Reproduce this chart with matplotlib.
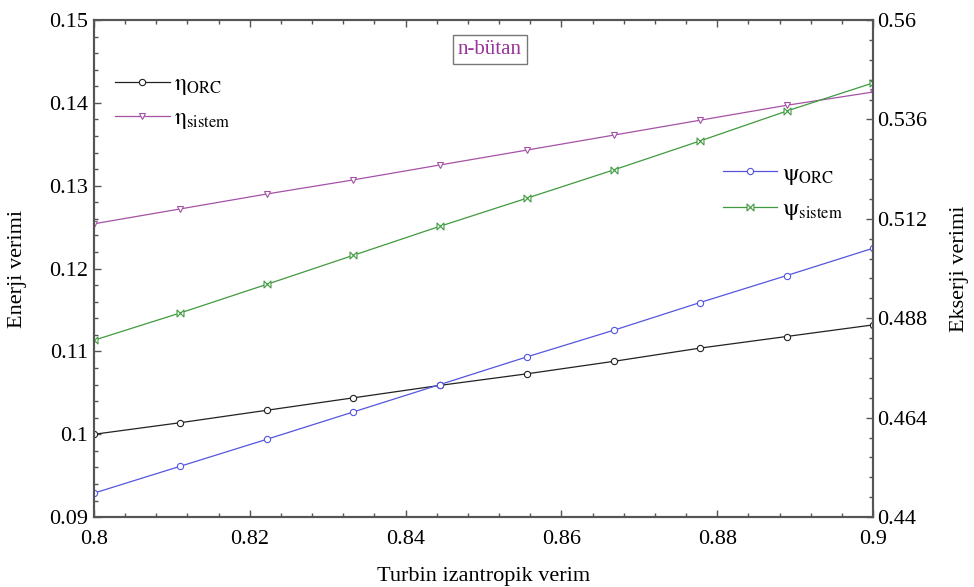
import numpy as np
import matplotlib.pyplot as plt
from matplotlib.path import Path
from matplotlib.ticker import FuncFormatter, MultipleLocator, FixedLocator, AutoMinorLocator

plt.rcParams['font.family'] = ['Liberation Serif', 'DejaVu Serif']
plt.rcParams['mathtext.fontset'] = 'stix'

# verimler (okunan degerler)
turbin_verim = [0.8, 0.8111, 0.8222, 0.8333, 0.8444, 0.8556, 0.8667, 0.8778, 0.8889, 0.9]
eta_orc = [0.1000, 0.1014, 0.1029, 0.1044, 0.1059, 0.1073, 0.1088, 0.1104, 0.1118, 0.1132]
eta_sistem = [0.1254, 0.1272, 0.1290, 0.1307, 0.1325, 0.1343, 0.1361, 0.1379, 0.1397, 0.1413]
psi_orc = [0.4458, 0.4523, 0.4588, 0.4654, 0.4720, 0.4787, 0.4851, 0.4918, 0.4983, 0.5049]
psi_sistem = [0.4827, 0.4893, 0.4962, 0.5032, 0.5102, 0.5170, 0.5238, 0.5308, 0.5380, 0.5448]
ekserji_ticks = [0.44, 0.464, 0.488, 0.512, 0.536, 0.56]

# yatay kum saati isareti
bowtie = Path([(-1, -1), (1, 1), (1, -1), (-1, 1), (-1, -1)],
              [Path.MOVETO, Path.LINETO, Path.LINETO, Path.LINETO, Path.CLOSEPOLY])

fig = plt.figure(figsize=(9.74, 5.87), dpi=100)
ax = fig.add_axes([0.0965, 0.119, 0.7998, 0.847])
ax2 = ax.twinx()

c_eta = '#222222'
c_eta_s = '#a552a5'
c_psi = '#5555e0'
c_psi_s = '#3f9a3f'

l1, = ax.plot(turbin_verim, eta_orc, color=c_eta, lw=0.9, marker='o', ms=4.5,
              mfc='white', mew=0.8, label=r'$\mathrm{η}_{\rm ORC}$')
l2, = ax.plot(turbin_verim, eta_sistem, color=c_eta_s, lw=0.9, marker='v', ms=5,
              mfc='white', mew=0.8, label=r'$\mathrm{η}_{\rm sistem}$')
l3, = ax2.plot(turbin_verim, psi_orc, color=c_psi, lw=0.9, marker='o', ms=4.5,
               mfc='white', mew=0.8, label=r'$\mathrm{ψ}_{\rm ORC}$')
l4, = ax2.plot(turbin_verim, psi_sistem, color=c_psi_s, lw=0.9, marker=bowtie, ms=5,
               mfc='white', mew=0.8, label=r'$\mathrm{ψ}_{\rm sistem}$')

ax.set_xlim(0.8, 0.9)
ax.set_ylim(0.09, 0.15)
ax2.set_ylim(0.44, 0.56)

fmt = FuncFormatter(lambda v, p: '%g' % round(v, 4))
ax.xaxis.set_major_locator(MultipleLocator(0.02))
ax.xaxis.set_minor_locator(MultipleLocator(0.004))
ax.yaxis.set_major_locator(MultipleLocator(0.01))
ax.yaxis.set_minor_locator(MultipleLocator(0.002))
ax2.yaxis.set_major_locator(FixedLocator(ekserji_ticks))
ax2.yaxis.set_minor_locator(AutoMinorLocator(5))
ax.xaxis.set_major_formatter(fmt)
ax.yaxis.set_major_formatter(fmt)
ax2.yaxis.set_major_formatter(fmt)

ax.tick_params(axis='x', which='both', direction='in', top=True, bottom=True,
               labelsize=16, color='#555555', pad=9)
ax.tick_params(axis='y', which='both', direction='in', left=True, right=False,
               labelsize=16, color='#555555', pad=4)
ax2.tick_params(axis='y', which='both', direction='in', labelsize=16,
                color='#555555', pad=3)
for a in (ax, ax2):
    a.tick_params(which='major', length=5, width=1)
    a.tick_params(which='minor', length=3, width=1)
    for s in a.spines.values():
        s.set_color('#555555')
        s.set_linewidth(1.5)

ax.set_xlabel('Turbin izantropik verim', fontsize=16, labelpad=13)
ax.set_ylabel('Enerji verimi', fontsize=16, labelpad=16)
ax2.set_ylabel('Ekserji verimi', fontsize=16, labelpad=16)

leg1 = ax2.legend(handles=[l1, l2], loc='upper left', bbox_to_anchor=(0.0, 0.935),
                  frameon=False, fontsize=17, handlelength=2.3, handletextpad=0.2,
                  labelspacing=0.45)
ax2.add_artist(leg1)
ax2.legend(handles=[l3, l4], loc='upper left', bbox_to_anchor=(0.78, 0.755),
           frameon=False, fontsize=17, handlelength=2.3, handletextpad=0.2,
           labelspacing=0.5)

ax2.text(0.508, 0.94, 'n-bütan', transform=ax.transAxes, ha='center', va='center',
         fontsize=15, color='#993399',
         bbox=dict(boxstyle='square,pad=0.25', fc='white', ec='#777777', lw=1))

fig.savefig('out.png', dpi=100)
